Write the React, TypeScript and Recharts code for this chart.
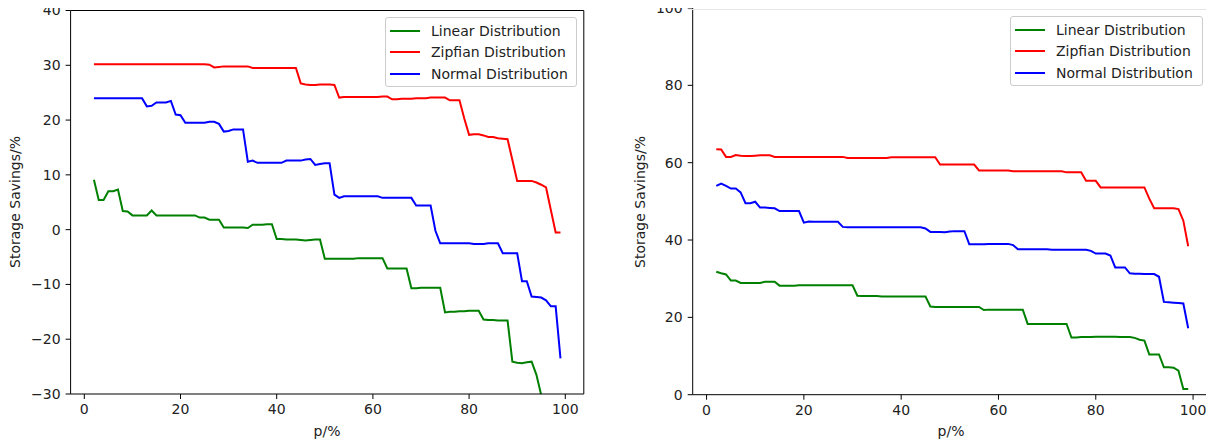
import React from 'react';
import { LineChart, Line, XAxis, YAxis, ReferenceLine } from 'recharts';

// p/% runs 2..99 in both panels
const P = Array.from({ length: 98 }, (_, i) => i + 2);

const LEFT_LINEAR = [
  9.1, 5.4, 5.4, 7.0, 7.0, 7.3, 3.4, 3.3, 2.6, 2.6, 2.6, 2.6, 3.5, 2.6, 2.6, 2.6, 2.6, 2.6, 2.6, 2.6,
  2.6, 2.6, 2.2, 2.2, 1.8, 1.8, 1.8, 0.4, 0.4, 0.4, 0.4, 0.4, 0.3, 0.9, 0.9, 0.9, 1.0, 1.0, -1.7, -1.7,
  -1.8, -1.8, -1.8, -1.9, -2.0, -1.9, -1.8, -1.8, -5.3, -5.3, -5.3, -5.3, -5.3, -5.3, -5.3, -5.2, -5.2, -5.2, -5.2, -5.2,
  -5.2, -7.1, -7.1, -7.1, -7.1, -7.1, -10.7, -10.7, -10.6, -10.6, -10.6, -10.6, -10.6, -15.1, -15.0, -15.0, -14.9, -14.9, -14.8, -14.8,
  -14.8, -16.4, -16.5, -16.5, -16.6, -16.6, -16.6, -24.1, -24.3, -24.4, -24.2, -24.1, -26.5, -30.2, -34, -38, -42, -46,
];
const LEFT_ZIPF = [
  30.2, 30.2, 30.2, 30.2, 30.2, 30.2, 30.2, 30.2, 30.2, 30.2, 30.2, 30.2, 30.2, 30.2, 30.2, 30.2, 30.2, 30.2, 30.2, 30.2,
  30.2, 30.2, 30.2, 30.2, 30.1, 29.6, 29.7, 29.8, 29.8, 29.8, 29.8, 29.8, 29.8, 29.5, 29.5, 29.5, 29.5, 29.5, 29.5, 29.5,
  29.5, 29.5, 29.5, 26.7, 26.5, 26.4, 26.4, 26.5, 26.5, 26.5, 26.4, 24.1, 24.2, 24.2, 24.2, 24.2, 24.2, 24.2, 24.2, 24.2,
  24.3, 24.3, 23.8, 23.8, 23.9, 23.9, 23.9, 24.0, 24.0, 24.0, 24.1, 24.1, 24.1, 24.1, 23.6, 23.6, 23.6, 20.3, 17.3, 17.4,
  17.4, 17.2, 16.9, 16.9, 16.7, 16.6, 16.5, 12.7, 8.9, 8.9, 8.9, 8.9, 8.6, 8.2, 7.7, 3.6, -0.5, -0.5,
];
const LEFT_NORMAL = [
  24.0, 24.0, 24.0, 24.0, 24.0, 24.0, 24.0, 24.0, 24.0, 24.0, 24.0, 22.5, 22.6, 23.2, 23.2, 23.2, 23.5, 21.0, 20.9, 19.5,
  19.5, 19.5, 19.5, 19.5, 19.7, 19.7, 19.3, 17.9, 18.0, 18.3, 18.3, 18.3, 12.4, 12.6, 12.2, 12.2, 12.2, 12.2, 12.2, 12.2,
  12.6, 12.6, 12.6, 12.6, 12.8, 12.9, 11.8, 12.0, 12.1, 12.1, 6.4, 5.8, 6.1, 6.1, 6.1, 6.1, 6.1, 6.1, 6.1, 6.1,
  5.8, 5.8, 5.8, 5.8, 5.8, 5.8, 5.8, 4.4, 4.4, 4.4, 4.4, -0.2, -2.5, -2.5, -2.5, -2.5, -2.5, -2.5, -2.5, -2.6,
  -2.6, -2.6, -2.5, -2.5, -2.5, -4.3, -4.3, -4.3, -4.3, -9.4, -9.4, -12.2, -12.3, -12.4, -12.9, -14.0, -14.0, -23.5,
];

const RIGHT_LINEAR = [
  31.8, 31.4, 31.1, 29.5, 29.5, 28.9, 28.9, 28.9, 28.9, 28.9, 29.2, 29.2, 29.2, 28.2, 28.2, 28.2, 28.2, 28.3, 28.3, 28.3,
  28.3, 28.3, 28.3, 28.3, 28.3, 28.3, 28.3, 28.3, 28.3, 25.6, 25.5, 25.5, 25.5, 25.5, 25.4, 25.4, 25.4, 25.4, 25.4, 25.4,
  25.4, 25.4, 25.4, 25.4, 22.8, 22.7, 22.7, 22.7, 22.7, 22.7, 22.7, 22.7, 22.7, 22.7, 22.7, 21.9, 22.0, 22.0, 22.0, 22.0,
  22.0, 22.0, 22.0, 22.0, 18.3, 18.3, 18.3, 18.3, 18.3, 18.3, 18.3, 18.3, 18.3, 14.8, 14.8, 14.9, 14.9, 14.9, 15.0, 15.0,
  15.0, 15.0, 15.0, 14.9, 14.9, 14.9, 14.7, 14.2, 14.0, 10.4, 10.4, 10.4, 7.1, 7.1, 7.0, 6.2, 1.5, 1.5,
];
const RIGHT_ZIPF = [
  63.5, 63.4, 61.5, 61.5, 62.0, 61.8, 61.7, 61.7, 61.8, 61.9, 61.9, 61.9, 61.5, 61.5, 61.5, 61.5, 61.5, 61.5, 61.5, 61.5,
  61.5, 61.5, 61.5, 61.5, 61.5, 61.5, 61.5, 61.2, 61.2, 61.2, 61.2, 61.2, 61.2, 61.2, 61.2, 61.2, 61.4, 61.4, 61.4, 61.4,
  61.4, 61.4, 61.4, 61.4, 61.4, 61.4, 59.5, 59.5, 59.5, 59.5, 59.5, 59.5, 59.5, 59.5, 58.0, 58.0, 58.0, 58.0, 58.0, 58.0,
  58.0, 57.8, 57.8, 57.8, 57.8, 57.8, 57.8, 57.8, 57.8, 57.8, 57.8, 57.8, 57.5, 57.5, 57.5, 57.5, 55.3, 55.3, 55.3, 53.6,
  53.6, 53.6, 53.6, 53.6, 53.6, 53.6, 53.6, 53.6, 53.6, 50.7, 48.2, 48.2, 48.2, 48.2, 48.2, 48.0, 45.0, 38.4,
];
const RIGHT_NORMAL = [
  54.0, 54.6, 54.0, 53.3, 53.3, 52.3, 49.5, 49.5, 49.9, 48.4, 48.4, 48.3, 48.2, 47.5, 47.5, 47.5, 47.5, 47.5, 44.5, 44.8,
  44.7, 44.7, 44.7, 44.7, 44.7, 44.7, 43.4, 43.3, 43.3, 43.3, 43.3, 43.3, 43.3, 43.3, 43.3, 43.3, 43.3, 43.3, 43.3, 43.3,
  43.3, 43.3, 43.3, 43.0, 42.1, 42.1, 42.1, 42.0, 42.2, 42.3, 42.3, 42.3, 38.9, 38.9, 38.9, 38.9, 39.0, 39.0, 39.0, 39.0,
  39.0, 38.7, 37.6, 37.6, 37.6, 37.6, 37.6, 37.6, 37.6, 37.5, 37.5, 37.5, 37.5, 37.5, 37.5, 37.5, 37.5, 37.2, 36.5, 36.5,
  36.5, 36.0, 32.9, 32.9, 32.9, 31.4, 31.3, 31.3, 31.2, 31.2, 31.2, 30.5, 24.0, 23.9, 23.8, 23.7, 23.6, 17.2,
];

const X_TICKS = [0, 20, 40, 60, 80, 100];
const LEFT_Y_TICKS = [-30, -20, -10, 0, 10, 20, 30, 40];
const RIGHT_Y_TICKS = [0, 20, 40, 60, 80, 100];

const SERIES = [
  { key: 'linear', name: 'Linear Distribution', color: '#008000' },
  { key: 'zipfian', name: 'Zipfian Distribution', color: '#ff0000' },
  { key: 'normal', name: 'Normal Distribution', color: '#0000ff' },
];

const leftData = P.map((p, i) => ({ p, linear: LEFT_LINEAR[i], zipfian: LEFT_ZIPF[i], normal: LEFT_NORMAL[i] }));
const rightData = P.map((p, i) => ({ p, linear: RIGHT_LINEAR[i], zipfian: RIGHT_ZIPF[i], normal: RIGHT_NORMAL[i] }));

const FONT = '"DejaVu Sans", sans-serif';
const tickStyle = { fill: '#222', fontSize: 14, fontFamily: FONT };
const minus = (v: number) => (v < 0 ? '\u2212' + Math.abs(v) : String(v));

const LegendBox = ({ left, top, width }: { left: number; top: number; width: number }) => (
  <div
    style={{
      position: 'absolute',
      left,
      top,
      width,
      height: 70,
      border: '1px solid #cccccc',
      borderRadius: 3,
      background: 'rgba(255,255,255,0.8)',
      padding: '2px 0 0 4px',
      fontFamily: FONT,
      fontSize: 14,
      color: '#222',
      boxSizing: 'border-box',
    }}
  >
    {SERIES.map((s) => (
      <div key={s.key} style={{ display: 'flex', alignItems: 'center', height: 21.5, whiteSpace: 'nowrap' }}>
        <span style={{ display: 'inline-block', width: 30, height: 2, background: s.color, marginRight: 11 }} />
        {s.name}
      </div>
    ))}
  </div>
);

const axisText = (text: string, x: number, y: number, rotate = false): React.ReactNode => (
  <div
    style={{
      position: 'absolute',
      left: x,
      top: y,
      transform: `translate(-50%, -50%)${rotate ? ' rotate(-90deg)' : ''}`,
      fontFamily: FONT,
      fontSize: 14,
      color: '#222',
      whiteSpace: 'nowrap',
    }}
  >
    {text}
  </div>
);

export default function App() {
  return (
    <div style={{ position: 'absolute', left: 0, top: 0, width: 1206, height: 441, overflow: 'hidden', background: '#fff' }}>
      <div style={{ position: 'absolute', left: 0, top: 0 }}>
        <LineChart width={600} height={441} data={leftData} margin={{ top: 10.5, right: 16.2, bottom: 17, left: 0 }}>
          <XAxis
            dataKey="p"
            type="number"
            domain={[-2.85, 103.85]}
            ticks={X_TICKS}
            allowDataOverflow
            height={30}
            tick={tickStyle}
            tickSize={5}
            tickMargin={5}
            stroke="#000"
          />
          <YAxis
            type="number"
            domain={[-30, 40]}
            ticks={LEFT_Y_TICKS}
            allowDataOverflow
            width={70.6}
            tick={tickStyle}
            tickSize={5}
            tickMargin={5}
            tickFormatter={minus}
            stroke="#000"
          />
          <ReferenceLine y={40} stroke="#000" strokeWidth={1} />
          <ReferenceLine x={103.85} stroke="#000" strokeWidth={1} />
          {SERIES.map((s) => (
            <Line key={s.key} dataKey={s.key} name={s.name} stroke={s.color} strokeWidth={2} dot={false} isAnimationActive={false} type="linear" />
          ))}
        </LineChart>
      </div>
      <div style={{ position: 'absolute', left: 620, top: 0 }}>
        <LineChart width={600} height={441} data={rightData} margin={{ top: 8, right: 8.2, bottom: 16.3, left: 0 }}>
          <XAxis
            dataKey="p"
            type="number"
            domain={[-2.85, 103.85]}
            ticks={X_TICKS}
            allowDataOverflow
            height={30}
            tick={tickStyle}
            tickSize={5}
            tickMargin={5}
            stroke="#000"
          />
          <YAxis
            type="number"
            domain={[0, 100]}
            ticks={RIGHT_Y_TICKS}
            allowDataOverflow
            width={72.7}
            tick={tickStyle}
            tickSize={5}
            tickMargin={5}
            stroke="#000"
          />
          {SERIES.map((s) => (
            <Line key={s.key} dataKey={s.key} name={s.name} stroke={s.color} strokeWidth={2} dot={false} isAnimationActive={false} type="linear" />
          ))}
        </LineChart>
      </div>
      <LegendBox left={385} top={17} width={192} />
      <LegendBox left={1010} top={16} width={193} />
      {axisText('p/%', 327, 431)}
      {axisText('Storage Savings/%', 15, 202, true)}
      {axisText('p/%', 951, 431)}
      {axisText('Storage Savings/%', 640, 202, true)}
      <div style={{ position: 'absolute', left: 0, top: 0, width: 1206, height: 8, background: '#fff' }} />
      <div style={{ position: 'absolute', left: 688, top: 9, width: 518, height: 1, background: '#e6e6e6' }} />
    </div>
  );
}
